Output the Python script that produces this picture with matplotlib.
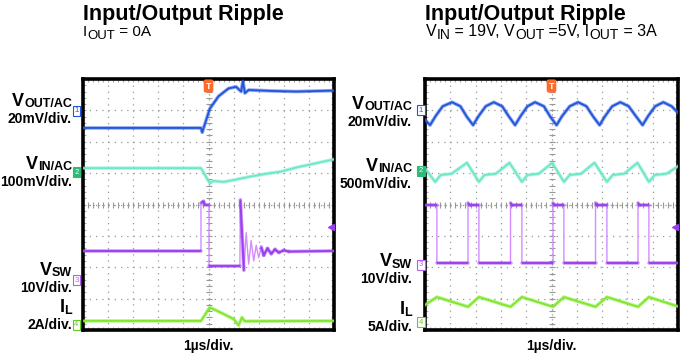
import matplotlib
matplotlib.use("Agg")
import matplotlib.pyplot as plt
import numpy as np
from matplotlib.collections import LineCollection

plt.rcParams['font.family'] = ['Liberation Sans', 'DejaVu Sans']

# ---- left scope shot: load step, Iout = 0A (x, y in divisions) ----
l_vout_x = [0, 4.7, 4.75, 5.05, 5.4, 5.8, 6.1, 6.3, 6.37, 6.45, 6.6, 7.5, 8.5, 10]
l_vout_y = [2.44, 2.44, 2.3, 3.05, 3.45, 3.7, 3.75, 3.6, 3.93, 3.55, 3.65, 3.62, 3.6, 3.63]

l_vin_x = [0, 4.7, 5.05, 5.2, 5.6, 6.0, 6.6, 7.3, 7.9, 8.5, 9.2, 10]
l_vin_y = [1.16, 1.16, 0.68, 0.75, 0.72, 0.78, 0.88, 0.98, 1.05, 1.18, 1.3, 1.44]

l_vsw_x = [0, 4.7, 4.7, 4.8, 4.85, 5.02, 5.02, 6.25, 6.27, 6.41, 6.5, 6.6, 6.7, 6.8,
           6.9, 7.0, 7.1, 7.2, 7.35, 7.5, 7.65, 7.8, 8.0, 8.2, 10]
l_vsw_y = [-1.48, -1.48, 0.05, 0.1, 0.0, 0.0, -1.97, -1.97, 0.15, -2.1, -0.9, -1.9, -1.15,
           -1.8, -1.3, -1.7, -1.35, -1.62, -1.4, -1.57, -1.43, -1.53, -1.46, -1.5, -1.48]

l_il_x = [0, 4.7, 5.05, 5.5, 6.0, 6.2, 6.33, 6.45, 10]
l_il_y = [-3.71, -3.71, -3.28, -3.45, -3.65, -3.85, -3.6, -3.72, -3.71]

# ---- right scope shot: steady state, Vin 19V, Vout 5V, Iout 3A ----
r_vout_x = [0, 0.2, 0.42, 0.7, 1.07, 1.4, 1.65, 1.9, 2.12, 2.4, 2.72, 3.05, 3.32, 3.56,
            3.78, 4.05, 4.35, 4.7, 4.95, 5.2, 5.42, 5.72, 6.05, 6.38, 6.65, 6.9, 7.12,
            7.4, 7.72, 8.05, 8.35, 8.6, 8.82, 9.1, 9.42, 9.75, 10]
r_vout_y = [2.7, 2.53, 2.82, 3.13, 3.26, 3.13, 2.8, 2.53, 2.82, 3.13, 3.26, 3.13, 2.8, 2.53,
            2.82, 3.13, 3.26, 3.13, 2.8, 2.53, 2.82, 3.13, 3.26, 3.13, 2.8, 2.53, 2.82,
            3.13, 3.26, 3.13, 2.8, 2.53, 2.82, 3.13, 3.26, 3.13, 2.92]

r_vin_x = [0, 0.4, 0.62, 1.05, 1.66, 2.13, 2.35, 2.8, 3.34, 3.83, 4.05, 4.5, 5.03, 5.49,
           5.72, 6.17, 6.7, 7.19, 7.42, 7.87, 8.4, 8.85, 9.08, 9.55, 10]
r_vin_y = [1.16, 0.72, 0.94, 0.98, 1.33, 0.72, 0.94, 0.98, 1.33, 0.72, 0.94, 0.98, 1.33, 0.72,
           0.94, 0.98, 1.33, 0.72, 0.94, 0.98, 1.33, 0.72, 0.94, 0.98, 1.22]

r_vsw_x = [0, 0.47, 0.47, 1.70, 1.70, 1.76, 2.13, 2.13, 3.38, 3.38, 3.44, 3.83, 3.83,
           5.06, 5.06, 5.12, 5.49, 5.49, 6.74, 6.74, 6.80, 7.19, 7.19, 8.42, 8.42, 8.48,
           8.85, 8.85, 10]
r_vsw_y = [-0.03, -0.03, -1.86, -1.86, 0.05, -0.03, -0.03, -1.86, -1.86, 0.05, -0.03, -0.03,
           -1.86, -1.86, 0.05, -0.03, -0.03, -1.86, -1.86, 0.05, -0.03, -0.03, -1.86, -1.86,
           0.05, -0.03, -0.03, -1.86, -1.86]

r_il_x = [0, 0.47, 1.70, 2.13, 3.38, 3.83, 5.06, 5.49, 6.74, 7.19, 8.42, 8.85, 10]
r_il_y = [-3.2, -2.95, -3.26, -2.95, -3.26, -2.95, -3.26, -2.95, -3.26, -2.95, -3.26, -2.95, -3.25]

trig_level = -0.72

C_BLUE = '#2255dd'
C_CYAN = '#6fe8c8'
C_PURPLE = '#9a3ef0'
C_PURPLE_EDGE = '#d48cff'
C_GREEN = '#7fe82a'

W, H = 682, 356
fig = plt.figure(figsize=(W / 100, H / 100), dpi=100)
renderer = fig.canvas.get_renderer()


def fx(px):
    return px / W


def fy(py):
    return 1 - py / H


def rich_text(x, y, parts, ha='left'):
    # parts: (text, size, lowering in px, weight) laid out one after the other
    widths = []
    for s, size, dy, wt in parts:
        t = fig.text(0, 0, s, fontsize=size, fontweight=wt)
        widths.append(t.get_window_extent(renderer).width)
        t.remove()
    x0 = x - sum(widths) if ha == 'right' else x
    for (s, size, dy, wt), w in zip(parts, widths):
        fig.text(fx(x0), fy(y + dy), s, fontsize=size, fontweight=wt,
                 ha='left', va='baseline')
        x0 += w


def scope_axes(left, right, top, bottom):
    ax = fig.add_axes([fx(left), fy(bottom), fx(right - left), (bottom - top) / H])
    ax.set_xlim(0, 10)
    ax.set_ylim(-4, 4)
    ax.set_xticks(np.arange(0, 11, 1))
    ax.set_yticks(np.arange(-4, 5, 1))
    ax.set_xticks(np.arange(0, 10.01, 0.2), minor=True)
    ax.set_yticks(np.arange(-4, 4.01, 0.2), minor=True)
    ax.tick_params(which='both', direction='in', length=2.5, color='#aaaaaa', width=0.8,
                   labelbottom=False, labelleft=False, top=True, right=True)
    ax.grid(True, color='#999999', linestyle=(0, (1, 4)), linewidth=0.9)
    for s in ax.spines.values():
        s.set_linewidth(2.6)
        s.set_color('black')
    # center cross with fine ticks
    ax.axhline(0, color='#999999', linestyle=(0, (1, 3)), linewidth=0.9, zorder=1)
    ax.axvline(5, color='#999999', linestyle=(0, (1, 3)), linewidth=0.9, zorder=1)
    mt = np.arange(0, 10.01, 0.2)
    ax.plot(mt, np.zeros_like(mt), linestyle='none', marker='|', markersize=4,
            color='#999999', markeredgewidth=0.8, zorder=1)
    mv = np.arange(-4, 4.01, 0.2)
    ax.plot(np.full_like(mv, 5), mv, linestyle='none', marker='_', markersize=4,
            color='#999999', markeredgewidth=0.8, zorder=1)
    return ax


def trace(ax, x, y, color):
    ax.plot(x, y, color=color, linewidth=2.6, alpha=0.5, solid_joinstyle='round', zorder=3)
    ax.plot(x, y, color=color, linewidth=1.3, solid_joinstyle='round', zorder=4)


def switch_trace(ax, x, y):
    x = np.asarray(x, float)
    y = np.asarray(y, float)
    ax.plot(x, y, color=C_PURPLE_EDGE, linewidth=1.0, zorder=3)
    segs = [[(x[i], y[i]), (x[i + 1], y[i + 1])] for i in range(len(x) - 1)
            if abs(y[i + 1] - y[i]) < 0.3 or abs(x[i + 1] - x[i]) > 0.12]
    ax.add_collection(LineCollection(segs, colors=C_PURPLE, linewidths=2.6, alpha=0.5,
                                     zorder=3, capstyle='round'))
    ax.add_collection(LineCollection(segs, colors=C_PURPLE, linewidths=1.3, zorder=4))


def trig_marks(ax):
    ax.text(5, 3.92, 'T', ha='center', va='top', fontsize=6.5, color='white',
            fontweight='bold', zorder=6,
            bbox=dict(boxstyle='round,pad=0.15', fc='#ff6a2a', ec='#ff6a2a'))
    ax.plot([9.9], [trig_level], marker='<', markersize=5, color=C_PURPLE, zorder=6)


# left panel
axL = scope_axes(83, 334, 79, 330)
trace(axL, l_vout_x, l_vout_y, C_BLUE)
trace(axL, l_vin_x, l_vin_y, C_CYAN)
switch_trace(axL, l_vsw_x, l_vsw_y)
trace(axL, l_il_x, l_il_y, C_GREEN)
trig_marks(axL)

# right panel
axR = scope_axes(425, 678, 79, 330)
trace(axR, r_vout_x, r_vout_y, C_BLUE)
trace(axR, r_vin_x, r_vin_y, C_CYAN)
switch_trace(axR, r_vsw_x, r_vsw_y)
trace(axR, r_il_x, r_il_y, C_GREEN)
trig_marks(axR)

# titles
for x0 in (83, 425):
    fig.text(fx(x0), fy(20), 'Input/Output Ripple', fontsize=15.5, fontweight='bold',
             ha='left', va='baseline')

rich_text(83, 36, [('I', 11, 0, 'normal'), ('OUT', 9.5, 3, 'normal'),
                   (' = 0A', 11, 0, 'normal')])
rich_text(426, 36, [('V', 11.5, 0, 'normal'), ('IN', 10, 3, 'normal'),
                    (' = 19V, V', 11.5, 0, 'normal'), ('OUT', 10, 3, 'normal'),
                    (' =5V, I', 11.5, 0, 'normal'), ('OUT', 10, 3, 'normal'),
                    (' = 3A', 11.5, 0, 'normal')])

# channel labels: (name, subscript, scale, name baseline px, scale baseline px)
left_labels = [('V', 'OUT/AC', '20mV/div.', 106, 123),
               ('V', 'IN/AC', '100mV/div.', 169, 186),
               ('V', 'SW', '10V/div.', 275, 292),
               ('I', 'L', '2A/div.', 312, 329)]
right_labels = [('V', 'OUT/AC', '20mV/div.', 109, 126),
                ('V', 'IN/AC', '500mV/div.', 171, 188),
                ('V', 'SW', '10V/div.', 266, 283),
                ('I', 'L', '5A/div.', 314, 331)]

for labels, xr in ((left_labels, 72), (right_labels, 412)):
    for main, sub, scale, yb1, yb2 in labels:
        rich_text(xr, yb1, [(main, 13, 0, 'bold'), (sub, 9, 1.5, 'bold')], ha='right')
        fig.text(fx(xr), fy(yb2), scale, fontsize=10, fontweight='bold',
                 ha='right', va='baseline')

# ground markers
marker_style = [('1', C_BLUE, 'white', C_BLUE),
                ('2', 'white', '#2dbb77', '#2dbb77'),
                ('3', '#b060f0', 'white', '#b060f0'),
                ('4', '#66cc22', 'white', '#66cc22')]
left_marks = [111, 172, 280, 325]
right_marks = [110, 171, 265, 322]
for xs, ys in ((76.5, left_marks), (421, right_marks)):
    for (num, tc, fc, ec), yy in zip(marker_style, ys):
        fig.text(fx(xs), fy(yy), num, fontsize=5.5, color=tc, ha='center', va='center',
                 bbox=dict(boxstyle='square,pad=0.2', fc=fc, ec=ec, lw=0.8))

# time base
fig.text(fx(208), fy(350), '1\u00b5s/div.', fontsize=10, fontweight='bold',
         ha='center', va='baseline')
fig.text(fx(551), fy(350), '1\u00b5s/div.', fontsize=10, fontweight='bold',
         ha='center', va='baseline')

fig.savefig('out.png', dpi=100)
